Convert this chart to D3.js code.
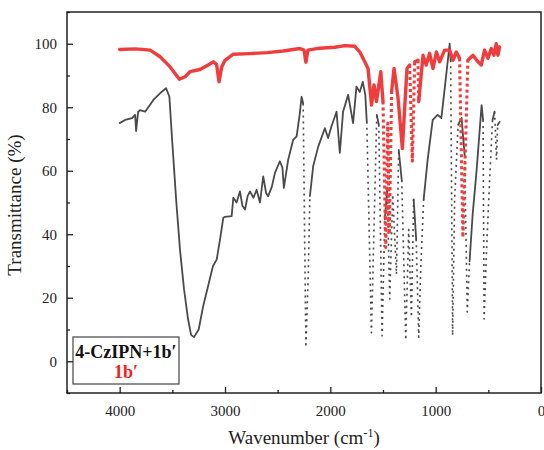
<!DOCTYPE html>
<html>
<head>
<meta charset="utf-8">
<script src="https://cdn.jsdelivr.net/npm/d3@7"></script>
<style>
  body { margin: 0; background: #fff; }
  svg text { font-family: "Liberation Serif", "Times New Roman", serif; }
</style>
</head>
<body>
<svg id="chart" width="544" height="450"></svg>
<script>
// 4-CzIPN+1b' (dark gray)
let blackWn = [4000, 3948, 3882, 3853, 3844, 3825, 3806, 3758, 3680, 3600, 3559, 3528, 3502, 3464, 3427, 3389, 3351, 3322, 3294, 3250,
    3206, 3114, 3079, 3047, 3016, 3000, 2937, 2921, 2890, 2858, 2835, 2810, 2785, 2763, 2730, 2700, 2668, 2637, 2610, 2590,
    2555, 2526, 2479, 2455, 2441, 2400, 2353, 2320, 2290, 2273, 2258, 2232, 2210, 2194, 2163, 2115, 2052, 2021, 1989, 1941,
    1910, 1879, 1831, 1784, 1752, 1720, 1692, 1668, 1654, 1610, 1588, 1559, 1540, 1509, 1483, 1460, 1436, 1408, 1372, 1351,
    1322, 1284, 1256, 1230, 1209, 1185, 1161, 1142, 1114, 1076, 1028, 981, 946, 905, 867, 858, 839, 820, 787, 754,
    725, 700, 678, 649, 611, 564, 550, 540, 517, 488, 460, 441, 422, 412, 393]
let blackT = [75, 76, 76.6, 77.6, 72.5, 78.5, 79.1, 78.6, 82.3, 84.9, 86, 83.3, 69.7, 51, 35, 22.7, 13.3, 8.3, 7.6, 10,
    17.5, 30, 32, 38.4, 45.2, 45.5, 45.7, 51.5, 50, 53.5, 49, 47.8, 52, 53.5, 51.5, 54, 50, 58.2, 53, 52,
    55, 59.3, 63, 61, 54.6, 63.5, 69.7, 70.8, 78, 83.3, 81.2, 4.4, 27, 52, 61.4, 67.6, 73.4, 70.3, 74, 78.6,
    65.6, 78.6, 83.9, 75, 86.5, 84.8, 88, 83.9, 75.4, 9, 38.4, 77.6, 74.5, 8, 44.7, 54, 19.6, 52.5, 27.4, 66.6,
    57, 6.7, 41.5, 13.9, 51, 38.4, 7.6, 29, 51, 63.5, 76, 77.6, 76.6, 88.6, 100, 94.8, 8.1, 51, 74.5, 76.6,
    65, 15.5, 31.5, 46.2, 60.3, 80.7, 76, 13.3, 35, 57, 76, 78.6, 63.5, 74.4, 75.4]

// 1b' (red)
let redWn = [4000, 3850, 3711, 3616, 3521, 3433, 3379, 3332, 3237, 3160, 3111, 3080, 3057, 3031, 3000, 2921, 2763, 2600, 2447, 2289,
    2250, 2232, 2213, 2100, 1957, 1863, 1768, 1720, 1673, 1642, 1609, 1585, 1562, 1521, 1500, 1474, 1455, 1440, 1418, 1395,
    1357, 1316, 1294, 1272, 1247, 1221, 1199, 1168, 1161, 1120, 1090, 1057, 1025, 993, 962, 915, 867, 836, 804, 773,
    741, 694, 646, 599, 567, 536, 504, 472, 447, 425, 409, 393]
let redT = [98.2, 98.4, 98, 95.9, 92.7, 88.8, 89.6, 91.2, 91.9, 93.3, 94.3, 93.5, 88, 92.7, 94.8, 96.7, 96.9, 97.2, 97.7, 98.5,
    98, 94.2, 98, 98.6, 98.9, 99.4, 99.2, 97.4, 94.3, 92.2, 80.7, 87, 81.8, 91.2, 81.8, 35.8, 75, 40, 85, 92.2,
    82.8, 67, 80, 92.2, 93.3, 63, 94.3, 94.8, 81.8, 96.4, 93.3, 97, 92.2, 97.4, 94.3, 98, 98, 94.8, 97.4, 95.4,
    39, 94.8, 96.4, 94.3, 93.3, 98, 95.4, 98.5, 96.4, 100, 96.4, 99]

let xTicks = [4000, 3000, 2000, 1000, 0]
let xMinor = [4500, 3500, 2500, 1500, 500]
let yTicks = [0, 20, 40, 60, 80, 100]
let yMinor = [-10, 10, 30, 50, 70, 90, 110]

let width = 544
let height = 450
let margin = { top: 12, right: 3, bottom: 57, left: 67 }

let svg = d3.select("#chart")

let xScale = d3.scaleLinear()
    .domain([4500, 0])
    .range([margin.left, width - margin.right])

let yScale = d3.scaleLinear()
    .domain([-10, 110])
    .range([height - margin.bottom, margin.top])

// 画谱线：近乎竖直的段用点线（仿原图）
function drawSeries(wn, t, color, lw, dash) {
    let pts = wn.map((w, i) => [xScale(w), yScale(t[i])])
    let runs = []
    d3.pairs(pts).forEach(([a, b]) => {
        let dx = Math.abs(b[0] - a[0]), dy = Math.abs(b[1] - a[1])
        let dotted = dy > 30 && dy / Math.max(dx, 0.01) > 18
        let last = runs[runs.length - 1]
        if (last && last.dotted == dotted) {
            last.pts.push(b)
        } else {
            runs.push({ dotted: dotted, pts: [a, b] })
        }
    })
    let line = d3.line()
    svg.append("g")
        .selectAll("path")
        .data(runs)
        .enter()
        .append("path")
        .attr("d", d => line(d.pts))
        .attr("fill", "none")
        .attr("stroke", color)
        .attr("stroke-width", d => d.dotted ? lw * 0.9 : lw)
        .attr("stroke-dasharray", d => d.dotted ? dash : null)
        .attr("stroke-linejoin", "round")
        .attr("stroke-linecap", d => d.dotted ? "butt" : "round")
}

drawSeries(blackWn, blackT, "#4a4a4a", 1.8, "2,4")
drawSeries(redWn, redT, "#f03c3c", 3.4, "3,3")

// 坐标轴
let xAxis = svg.append("g")
    .attr("transform", "translate(0," + (height - margin.bottom) + ")")
    .call(d3.axisBottom(xScale).tickValues(xTicks).tickSize(-6).tickPadding(12).tickFormat(d3.format("d")))
xAxis.append("g")
    .call(d3.axisBottom(xScale).tickValues(xMinor).tickSize(-3).tickFormat(""))

let yAxis = svg.append("g")
    .attr("transform", "translate(" + margin.left + ",0)")
    .call(d3.axisLeft(yScale).tickValues(yTicks).tickSize(-6).tickPadding(10))
yAxis.append("g")
    .call(d3.axisLeft(yScale).tickValues(yMinor).tickSize(-3).tickFormat(""))

svg.selectAll(".domain").remove()
svg.selectAll(".tick line").attr("stroke", "#222").attr("stroke-width", 1.3)
svg.selectAll(".tick text")
    .attr("fill", "#222")
    .style("font-family", "'Liberation Serif', serif")
    .style("font-size", "15px")

// 边框
svg.append("rect")
    .attr("x", margin.left)
    .attr("y", margin.top)
    .attr("width", width - margin.left - margin.right)
    .attr("height", height - margin.top - margin.bottom)
    .attr("fill", "none")
    .attr("stroke", "#222")
    .attr("stroke-width", 1.5)

// 轴标题
svg.append("text")
    .attr("transform", "translate(21,205) rotate(-90)")
    .attr("text-anchor", "middle")
    .attr("fill", "#222")
    .style("font-size", "19px")
    .text("Transmittance (%)")

let xt = svg.append("text")
    .attr("x", 304)
    .attr("y", 444)
    .attr("text-anchor", "middle")
    .attr("fill", "#222")
    .style("font-size", "19px")
xt.append("tspan").text("Wavenumber (cm")
xt.append("tspan").attr("dy", -7).style("font-size", "12px").text("-1")
xt.append("tspan").attr("dy", 7).text(")")

// 图例
svg.append("rect")
    .attr("x", 73)
    .attr("y", 337)
    .attr("width", 106)
    .attr("height", 47)
    .attr("fill", "#fff")
    .attr("stroke", "#444")
    .attr("stroke-width", 1.2)

svg.append("text")
    .attr("x", 126)
    .attr("y", 358)
    .attr("text-anchor", "middle")
    .attr("fill", "#111")
    .style("font-size", "18px")
    .style("font-weight", "bold")
    .text("4-CzIPN+1b\u2032")

svg.append("text")
    .attr("x", 126)
    .attr("y", 378)
    .attr("text-anchor", "middle")
    .attr("fill", "#ff1a1a")
    .style("font-size", "18px")
    .style("font-weight", "bold")
    .text("1b\u2032")
</script>
</body>
</html>
